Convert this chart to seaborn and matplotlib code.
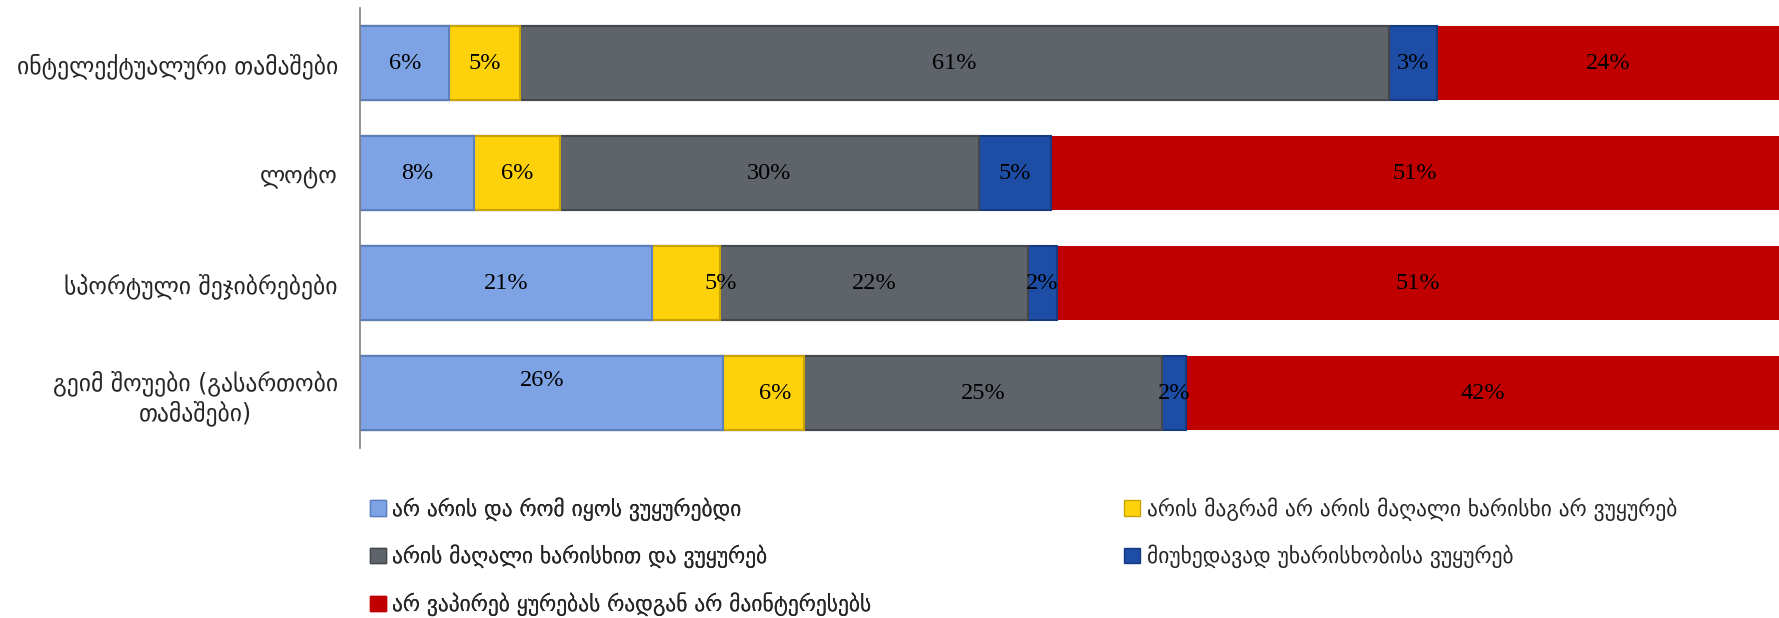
import matplotlib
matplotlib.use("Agg")
import matplotlib.pyplot as plt
from matplotlib.patches import Patch
import numpy as np
import seaborn as sns

# ── Data ─────────────────────────────────────────────────────────────────────
categories = [
    "ინტელექტუალური თამაშები",
    "ლოტო",
    "სპორტული შეჯიბრებები",
    "გეიმ შოუები (გასართობი\nთამაშები)",
]
series_names = [
    "არ არის და რომ იყოს ვუყურებდი",
    "არის მაგრამ არ არის მაღალი ხარისხი არ ვუყურებ",
    "არის მაღალი ხარისხით და ვუყურებ",
    "მიუხედავად უხარისხობისა ვუყურებ",
    "არ ვაპირებ ყურებას რადგან არ მაინტერესებს",
]
not_exist = [6.3, 8.0, 20.6, 25.6]
low_quality = [5.0, 6.1, 4.8, 5.7]
high_quality = [61.2, 29.5, 21.7, 25.2]
watch_anyway = [3.4, 5.1, 2.0, 1.7]
not_interested = [24.1, 51.3, 50.9, 41.8]

# ── Style ────────────────────────────────────────────────────────────────────
COLORS = ["#7EA3E4", "#FDD20A", "#5F646B", "#1E4DA6", "#C00000"]
EDGES = ["#5C7FBE", "#C9A300", "#44484E", "#163A80", "#C00000"]

sns.set_style("white")
plt.rcParams["font.family"] = ["DejaVu Sans"]

fig = plt.figure(figsize=(17.79, 6.18), dpi=100)
ax = fig.add_axes([0.2024, 0.275, 0.7976, 0.712])

values = np.array([not_exist, low_quality, high_quality, watch_anyway, not_interested])
cum = values.cumsum(axis=0)

# stacked bars: draw cumulative totals from longest to shortest
for k in range(len(series_names) - 1, -1, -1):
    sns.barplot(
        x=cum[k], y=categories, orient="h", color=COLORS[k],
        width=0.68, edgecolor=EDGES[k], linewidth=1.5 if k < 4 else 0,
        saturation=1, ax=ax,
    )

# value labels, centred in each segment (a few nudged like the original)
nudge = {(2, 1): (2.4, 0.0), (3, 0): (0.0, -0.11), (3, 1): (0.8, 0.0)}
for k in range(len(series_names)):
    for i in range(len(categories)):
        v = values[k, i]
        dx, dy = nudge.get((i, k), (0.0, 0.0))
        ax.text(cum[k, i] - v / 2 + dx, i + dy, f"{v:.0f}%",
                ha="center", va="center", fontsize=17.5,
                family=["Liberation Serif"], color="black")

ax.set_xlim(0, 100)
ax.set_ylim(3.5, -0.5)
ax.set_xlabel("")
ax.set_ylabel("")
ax.set_xticks([])
ax.tick_params(axis="y", length=0, pad=16, labelsize=17)
for lbl in ax.get_yticklabels():
    lbl.set_multialignment("center")
for side in ["top", "right", "bottom"]:
    ax.spines[side].set_visible(False)
ax.spines["left"].set_color("#808080")
ax.spines["left"].set_linewidth(1.2)

# legend: two columns, row-major order as in the original
handles = [Patch(facecolor=COLORS[k], edgecolor=EDGES[k]) for k in range(5)]
leg_kw = dict(
    loc="upper left", frameon=False, fontsize=15.5, handlelength=0.75,
    handleheight=0.75, handletextpad=0.3, labelspacing=1.12, borderaxespad=0,
)
leg1 = fig.legend(
    [handles[0], handles[2], handles[4]],
    [series_names[0], series_names[2], series_names[4]],
    bbox_to_anchor=(0.203, 0.21), **leg_kw,
)
fig.add_artist(leg1)
fig.legend(
    [handles[1], handles[3]],
    [series_names[1], series_names[3]],
    bbox_to_anchor=(0.627, 0.21), **leg_kw,
)

fig.savefig("out.png", dpi=100)
